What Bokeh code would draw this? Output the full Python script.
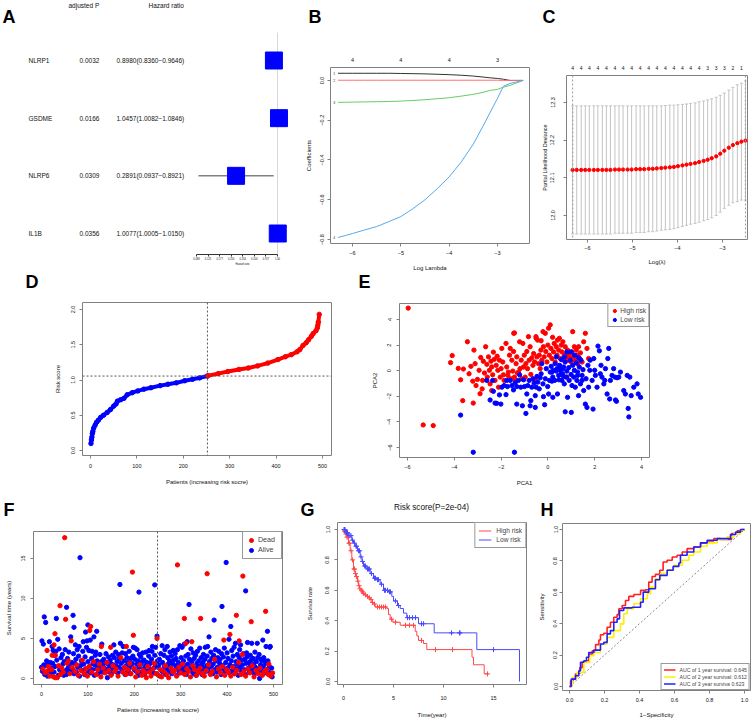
import math
from bokeh.plotting import figure
from bokeh.layouts import row, column
from bokeh.models import Range1d, FixedTicker, LinearAxis, LogAxis, Span, Legend, LegendItem
from bokeh.embed import file_html
from bokeh.resources import INLINE
from bokeh.core.properties import value

# ---------------------------------------------------------------- data
# A: forest plot
A_genes = ["NLRP1", "GSDME", "NLRP6", "IL1B"]
A_padj = ["0.0032", "0.0166", "0.0309", "0.0356"]
A_hr = [0.8980, 1.0457, 0.2891, 1.0077]
A_lo = [0.8360, 1.0082, 0.0937, 1.0005]
A_hi = [0.9646, 1.0846, 0.8921, 1.0150]
A_row = [4, 3, 2, 1]
A_ticks = [0.0884, 0.125, 0.1768, 0.25, 0.3536, 0.5, 0.7071, 1.0]
A_tick_labels = ["0.088", "0.125", "0.177", "0.250", "0.354", "0.500", "0.707", "1.00"]
A_headers = ["adjusted P", "Hazard ratio"]

# B: LASSO coefficient paths
B_loglambda = [-6.30, -6.15, -6.00, -5.75, -5.50, -5.25, -5.00, -4.75, -4.50, -4.25, -4.00,
               -3.75, -3.50, -3.30, -3.15, -3.00, -2.88, -2.74, -2.47]
B_coef_1 = [0.036, 0.036, 0.036, 0.036, 0.036, 0.036, 0.035, 0.034, 0.033, 0.031, 0.029,
            0.026, 0.022, 0.017, 0.013, 0.010, 0.006, 0.000, 0.000]
B_coef_2 = [0.001, 0.001, 0.001, 0.001, 0.001, 0.001, 0.001, 0.001, 0.001, 0.001, 0.001,
            0.001, 0.001, 0.001, 0.001, 0.001, 0.000, 0.000, 0.000]
B_coef_3 = [-0.110, -0.110, -0.109, -0.108, -0.107, -0.106, -0.104, -0.101, -0.097, -0.092, -0.087,
            -0.079, -0.070, -0.060, -0.050, -0.045, -0.034, -0.025, 0.000]
B_coef_4 = [-0.790, -0.780, -0.770, -0.752, -0.735, -0.710, -0.685, -0.645, -0.600, -0.545, -0.485,
            -0.410, -0.320, -0.230, -0.160, -0.090, -0.030, -0.015, 0.000]
B_top_ticks = [-6, -5, -4, -3]
B_top_labels = ["4", "4", "4", "3"]

# C: cross-validation curve
C_loglambda = [-6.33, -6.24, -6.14, -6.05, -5.96, -5.86, -5.77, -5.67, -5.58, -5.49,
               -5.39, -5.30, -5.21, -5.11, -5.02, -4.92, -4.83, -4.74, -4.64, -4.55,
               -4.46, -4.36, -4.27, -4.17, -4.08, -3.99, -3.89, -3.80, -3.71, -3.61,
               -3.52, -3.42, -3.33, -3.24, -3.14, -3.05, -2.96, -2.86, -2.77, -2.67,
               -2.58, -2.49]
C_mean = [12.121, 12.121, 12.121, 12.121, 12.121, 12.121, 12.121, 12.121, 12.121, 12.121,
          12.122, 12.122, 12.122, 12.122, 12.122, 12.123, 12.123, 12.123, 12.124, 12.124,
          12.125, 12.126, 12.127, 12.128, 12.129, 12.131, 12.133, 12.135, 12.137, 12.139,
          12.142, 12.145, 12.148, 12.152, 12.157, 12.164, 12.172, 12.180, 12.187, 12.192,
          12.196, 12.199]
C_upper = [12.291, 12.291, 12.291, 12.291, 12.291, 12.291, 12.291, 12.291, 12.291, 12.291,
           12.291, 12.291, 12.291, 12.291, 12.291, 12.291, 12.291, 12.291, 12.291, 12.291,
           12.291, 12.291, 12.292, 12.293, 12.293, 12.294, 12.295, 12.296, 12.297, 12.299,
           12.302, 12.304, 12.307, 12.310, 12.314, 12.319, 12.325, 12.333, 12.340, 12.347,
           12.351, 12.357]
C_lower = [11.951, 11.951, 11.951, 11.951, 11.951, 11.951, 11.951, 11.951, 11.951, 11.951,
           11.953, 11.953, 11.953, 11.953, 11.953, 11.955, 11.955, 11.955, 11.957, 11.957,
           11.959, 11.961, 11.962, 11.963, 11.965, 11.968, 11.971, 11.974, 11.977, 11.979,
           11.982, 11.986, 11.989, 11.994, 12.000, 12.009, 12.019, 12.027, 12.034, 12.037,
           12.041, 12.041]
C_nzero = [4] * 32 + [3, 3, 3, 3, 3, 3, 2, 2, 1, 1]

# D: risk score curve (patients sorted by risk score)
D_patient = [1, 2, 3, 4, 5, 7, 10, 13, 17, 22, 28, 36, 43, 50, 55, 58, 65, 72, 79, 90, 102,
             115, 130, 150, 167, 185, 203, 220, 235, 252,
             253, 275, 296, 320, 340, 360, 382, 404, 420, 433, 445, 451, 458, 465, 470,
             476, 480, 486, 489, 490, 491, 493]
D_risk = [0.10, 0.15, 0.19, 0.24, 0.27, 0.32, 0.36, 0.40, 0.43, 0.47, 0.50, 0.54, 0.58, 0.63,
          0.66, 0.70, 0.72, 0.74, 0.79, 0.82, 0.845, 0.87, 0.89, 0.92, 0.94, 0.96, 0.99, 1.01,
          1.03, 1.056,
          1.06, 1.09, 1.12, 1.15, 1.17, 1.20, 1.24, 1.29, 1.33, 1.36, 1.40, 1.43, 1.49, 1.53,
          1.57, 1.62, 1.66, 1.70, 1.74, 1.78, 1.82, 1.93]
D_cut_patient = 252
D_cut_risk = 1.056

# E: PCA
E_high = [(-5.97, 4.89), (-5.33, -4.24), (-4.90, -4.29), (-4.16, 0.63), (-4.09, 1.18), (-3.83, 0.18),
          (-3.73, -0.71), (-3.64, -2.34), (-3.61, 0.13), (-3.44, 2.26), (-3.37, -0.24), (-3.29, 0.34),
          (-3.21, -0.82), (-3.16, 1.61), (-3.19, -2.53), (-3.11, 0.55), (-3.07, -1.16), (-3.01, -0.68),
          (-2.94, 0.03), (-2.90, -1.80), (-2.87, 1.03), (-2.81, -1.42), (-2.79, -0.76), (-2.76, 0.74),
          (-2.71, -0.18), (-2.66, 1.87), (-2.61, 0.50), (-2.59, -0.50), (-2.54, 1.08), (-2.50, 0.03),
          (-2.47, -1.03), (-2.43, 0.74), (-2.40, 0.29), (-2.40, -1.55), (-2.36, -0.32), (-2.33, 1.45),
          (-2.29, 0.89), (-2.26, -0.76), (-2.21, 0.42), (-2.17, 1.13), (-2.14, 0.03), (-2.11, -1.29),
          (-2.07, 0.82), (-2.04, -0.50), (-2.00, 0.16), (-1.97, 1.74), (-1.93, 0.68), (-1.90, -0.32),
          (-1.87, -0.76), (-1.79, 2.13), (-1.76, 0.29), (-1.71, -0.37), (-1.69, -0.11), (-1.64, 1.21),
          (-1.61, 1.74), (-1.59, -0.63), (-1.54, 0.82), (-1.50, -0.03), (-1.47, 1.50), (-1.46, 2.92),
          (-1.43, 2.95), (-1.43, -0.50), (-1.39, -0.76), (-1.36, 0.55), (-1.33, 1.08), (-1.30, -0.18),
          (-1.26, -0.11), (-1.21, 2.26), (-1.19, 0.16), (-1.14, 0.82), (-1.11, -0.63), (-1.07, 2.13),
          (-1.04, 0.29), (-1.01, 1.21), (-0.97, -0.50), (-0.94, 0.55), (-0.90, 1.50), (-0.87, 0.16),
          (-0.83, 2.66), (-0.80, 0.82), (-0.76, 1.87), (-0.73, -0.29), (-0.69, 1.00), (-0.64, 0.42),
          (-0.61, 1.34), (-0.57, 0.68), (-0.54, -0.71), (-0.51, 2.66), (-0.50, 2.53), (-0.47, 1.08),
          (-0.44, 2.39), (-0.40, 0.55), (-0.37, 1.21), (-0.33, 0.16), (-0.30, 1.61), (-0.29, 2.34),
          (-0.26, 0.82), (-0.21, 3.05), (-0.19, 1.87), (-0.16, 1.08), (-0.11, 2.92), (-0.09, 1.50),
          (-0.04, 0.68), (0.00, 2.00), (0.03, 3.32), (0.06, 1.21), (0.10, 3.58), (0.13, 1.74),
          (0.17, 0.95), (0.20, 2.61), (0.24, 1.47), (0.27, 2.13), (0.31, 0.68), (0.36, 1.87),
          (0.39, 1.21), (0.41, 2.39), (0.46, 1.61), (0.49, 2.53), (0.53, 0.95), (0.57, 2.00),
          (0.60, 1.47), (0.64, 2.26), (0.67, 0.82), (0.70, 1.21), (0.74, 1.87), (0.79, 1.08),
          (0.81, -0.50), (0.84, 1.61), (0.89, 0.82), (0.91, 1.34), (0.96, 1.00), (0.99, 0.68),
          (1.03, 1.47), (1.06, 3.05), (1.10, 1.13), (1.13, 1.87), (1.17, 0.82), (1.21, 1.61),
          (1.24, 1.21), (1.27, 0.55), (1.31, 1.87), (1.36, 0.95), (1.39, 1.39), (1.46, 0.68),
          (1.53, 2.26), (1.60, 2.92), (1.67, 1.74), (1.74, 0.95)]
E_low = [(-3.73, -3.47), (-3.19, -6.37), (-1.43, -6.37), (-2.47, -2.29), (-2.36, -0.76), (-2.33, -1.61),
         (-2.26, -2.53), (-2.19, -2.55), (-2.07, -1.89), (-2.01, -2.61), (-1.97, -1.29), (-1.87, -1.16),
         (-1.79, -1.87), (-1.76, -0.76), (-1.73, -1.24), (-1.61, -0.76), (-1.54, -1.16), (-1.47, -1.50),
         (-1.40, -0.95), (-1.33, -1.24), (-1.33, -2.61), (-1.26, -0.76), (-1.21, -0.32), (-1.16, -1.29),
         (-1.09, -2.74), (-1.04, -0.71), (-1.00, -1.24), (-0.94, -3.34), (-0.90, -1.82), (-0.86, -1.16),
         (-0.80, -0.76), (-0.76, -2.74), (-0.73, -2.34), (-0.69, -1.29), (-0.64, -0.63), (-0.59, -0.97),
         (-0.54, -1.95), (-0.54, -2.87), (-0.50, -1.29), (-0.47, -0.45), (-0.43, -0.89), (-0.37, -1.42),
         (-0.33, -0.55), (-0.29, -0.24), (-0.26, 0.55), (-0.21, -1.03), (-0.19, -2.03), (-0.14, -2.66),
         (-0.11, -0.63), (-0.07, 0.16), (-0.01, -1.24), (0.03, -1.82), (0.07, -0.76), (0.10, -0.11),
         (0.14, 0.34), (0.17, -0.82), (0.17, -0.11), (0.21, -0.50), (0.21, -2.08), (0.24, 0.03),
         (0.29, -0.76), (0.31, 0.55), (0.36, 1.08), (0.36, -0.03), (0.39, 0.16), (0.41, -1.82),
         (0.46, -0.37), (0.47, -0.71), (0.49, 0.16), (0.50, 0.42), (0.53, 0.03), (0.57, 0.87),
         (0.57, -0.24), (0.60, -0.76), (0.63, -0.24), (0.64, 0.16), (0.67, 0.29), (0.67, -0.45),
         (0.70, -1.03), (0.71, 1.08), (0.74, 0.68), (0.74, -3.21), (0.79, -0.50), (0.81, -0.03),
         (0.81, 1.47), (0.84, -2.08), (0.89, 0.24), (0.91, -0.76), (0.96, 0.82), (0.99, -0.29),
         (0.99, 1.47), (1.00, -3.26), (1.03, -1.16), (1.06, 0.42), (1.10, -0.50), (1.13, 0.03),
         (1.14, 1.21), (1.17, -1.29), (1.21, 0.61), (1.24, -0.76), (1.27, -0.11), (1.27, -0.37),
         (1.31, -1.95), (1.31, 1.03), (1.34, 0.29), (1.39, -1.03), (1.41, 0.82), (1.46, -0.37),
         (1.46, -0.76), (1.50, 0.08), (1.53, -1.55), (1.60, -2.61), (1.63, -0.63), (1.67, -2.87),
         (1.71, 0.42), (1.74, -1.29), (1.79, 0.03), (1.81, 0.82), (1.89, -0.76), (1.93, -3.00),
         (1.96, 0.95), (2.00, 0.03), (2.03, -0.37), (2.10, -1.29), (2.14, 1.92), (2.20, 1.55),
         (2.24, -0.24), (2.27, 0.42), (2.31, -0.50), (2.39, -1.03), (2.43, -0.76), (2.46, 0.16),
         (2.53, -1.82), (2.56, 0.95), (2.60, 1.74), (2.64, -2.21), (2.67, -0.76), (2.74, -0.37),
         (2.81, 0.16), (2.86, -0.50), (2.89, -2.29), (2.93, -2.39), (2.96, -0.55), (3.03, -0.50),
         (3.10, -0.11), (3.24, -1.55), (3.31, -1.82), (3.39, -0.37), (3.43, -2.95), (3.46, -3.61),
         (3.50, -0.50), (3.56, -1.95), (3.67, -1.29), (3.81, -1.03), (3.86, -1.82), (3.96, -2.08),
         (-2.61, -0.76)]

# F: survival status (patient rank, years)
F_dead = [(50, 17.6), (40, 9.1), (52, 7.4), (29, 5.6), (64, 4.7), (104, 6.0), (106, 6.5), (129, 4.0),
          (149, 3.9), (183, 4.0), (196, 13.3), (198, 5.4), (249, 5.0), (293, 14.2), (308, 7.5),
          (311, 4.4), (324, 4.6), (343, 7.5), (357, 13.1), (393, 4.8), (406, 5.5), (420, 7.9),
          (426, 4.7), (434, 12.8), (433, 3.0), (452, 7.1), (483, 8.4), (490, 1.8), (12, 3.5),
          (27, 4.2), (23, 2.9), (30, 2.9),
          (3, 1.2), (8, 0.7), (12, 0.9), (15, 1.5), (18, 0.3), (22, 1.1), (26, 0.2), (30, 0.1),
          (34, 0.1), (37, 1.6), (41, 0.5), (44, 1.3), (47, 0.8), (55, 1.9), (58, 2.2), (61, 0.6),
          (66, 1.4), (72, 0.9), (76, 1.7), (79, 0.4), (85, 1.0), (88, 2.3), (92, 0.6), (96, 1.2),
          (99, 0.3), (103, 1.5), (108, 0.8), (112, 2.1), (118, 0.5), (121, 1.1), (125, 1.8),
          (128, 0.2), (133, 1.3), (137, 0.7), (141, 2.0), (145, 1.0), (150, 0.4), (154, 1.6),
          (158, 0.9), (161, 1.2), (165, 0.3), (171, 2.6), (175, 0.8), (179, 1.4), (182, 0.5),
          (186, 1.1), (190, 1.9), (193, 0.6), (199, 1.3), (203, 0.2), (207, 0.9), (212, 1.7),
          (216, 0.4), (219, 1.0), (223, 0.7), (226, 0.1), (229, 1.5), (233, 0.8), (236, 0.3),
          (240, 1.2), (243, 1.9), (247, 0.6), (252, 0.4), (256, 1.1), (259, 0.2), (263, 0.9),
          (267, 1.6), (270, 0.5), (274, 0.1), (279, 1.3), (283, 0.8), (287, 1.0), (291, 0.3),
          (296, 1.4), (300, 0.7), (304, 1.8), (309, 0.5), (313, 1.2), (317, 0.9), (321, 0.2),
          (326, 1.6), (330, 1.1), (334, 0.4), (338, 0.8), (342, 1.3), (347, 0.6), (351, 0.3),
          (355, 1.0), (360, 1.7), (364, 0.5), (368, 0.9), (373, 2.4), (377, 0.2), (381, 1.2),
          (386, 0.7), (390, 1.5), (395, 0.4), (399, 1.1), (403, 0.8), (408, 0.3), (412, 1.4),
          (417, 0.6), (421, 1.0), (425, 2.0), (430, 0.5), (436, 0.9), (440, 0.3), (445, 1.2),
          (449, 0.7), (454, 1.6), (458, 0.2), (462, 1.0), (467, 0.6), (471, 1.3), (476, 0.4),
          (480, 0.8), (485, 1.1), (489, 0.5), (494, 0.3), (498, 0.7)]
F_alive = [(1, 4.7), (4, 4.3), (6, 7.7), (9, 7.0), (32, 7.5), (54, 8.9), (68, 7.9), (70, 6.4),
           (83, 15.1), (100, 6.7), (95, 5.8), (119, 5.9), (169, 11.75), (210, 10.8), (244, 11.7),
           (318, 9.25), (372, 7.3), (389, 9.0), (398, 14.5), (408, 6.5), (440, 10.95),
           (0, 1.4), (2, 0.9), (5, 1.7), (7, 0.5), (9, 1.6), (11, 2.2), (13, 0.3), (14, 1.8), (16, 1.0),
           (17, 4.6), (19, 2.0), (20, 0.7), (21, 1.3), (23, 4.0), (24, 1.9), (25, 3.5), (27, 0.8),
           (28, 2.9), (29, 1.5), (31, 3.4), (33, 2.3), (35, 4.9), (36, 0.4), (38, 3.7), (39, 1.1),
           (42, 2.6), (43, 0.6), (45, 3.0), (46, 1.8), (48, 0.4), (49, 2.1), (51, 3.6), (53, 1.0),
           (54, 0.5), (56, 2.5), (57, 1.3), (59, 3.3), (60, 1.7), (62, 0.9), (63, 5.2), (65, 2.0),
           (67, 1.1), (69, 3.1), (70, 0.6), (71, 1.9), (73, 4.2), (74, 2.4), (75, 0.8), (77, 3.6),
           (78, 1.4), (80, 2.8), (81, 4.0), (82, 0.3), (84, 1.6), (86, 2.2), (87, 1.0), (89, 3.4),
           (90, 4.6), (91, 1.8), (93, 0.5), (94, 2.7), (95, 1.2), (97, 3.9), (98, 4.7), (100, 2.1),
           (101, 0.9), (102, 3.5), (104, 1.5), (105, 4.8), (106, 0.7), (108, 2.5), (109, 3.4),
           (110, 1.1), (111, 1.9), (113, 5.2), (114, 0.4), (115, 1.7), (116, 2.9), (117, 3.3),
           (119, 1.2), (120, 2.2), (122, 0.6), (124, 1.5), (126, 3.0), (127, 1.0), (129, 2.1),
           (130, 4.3), (131, 0.8), (132, 1.6), (134, 2.4), (135, 1.3), (136, 0.9), (138, 2.0),
           (139, 3.1), (140, 1.1), (142, 0.1), (143, 1.8), (144, 2.7), (146, 0.8), (147, 1.4),
           (148, 2.3), (149, 1.9), (151, 0.6), (152, 1.2), (153, 2.9), (155, 1.7), (156, 4.2),
           (157, 2.6), (159, 1.0), (160, 3.3), (162, 1.5), (163, 2.1), (164, 0.7), (166, 3.0),
           (167, 1.4), (168, 2.5), (170, 4.4), (172, 1.9), (173, 0.9), (174, 3.2), (176, 4.0),
           (177, 1.3), (178, 2.2), (180, 0.5), (181, 3.1), (183, 1.6), (184, 2.6), (185, 0.8),
           (187, 2.0), (188, 1.2), (189, 3.4), (191, 0.6), (192, 2.5), (194, 1.5), (195, 1.9),
           (197, 2.8), (198, 3.9), (200, 1.1), (201, 2.4), (202, 3.8), (204, 0.9), (205, 1.8),
           (206, 3.6), (208, 2.2), (209, 0.4), (210, 1.4), (211, 3.0), (213, 1.7), (214, 2.7),
           (215, 0.8), (217, 2.1), (218, 3.2), (220, 1.2), (221, 2.3), (222, 0.5), (224, 1.6),
           (225, 3.3), (227, 2.0), (228, 0.9), (230, 1.5), (231, 2.8), (232, 3.5), (234, 1.1),
           (235, 1.9), (237, 2.4), (238, 3.4), (239, 4.0), (241, 0.7), (242, 1.3), (244, 2.9),
           (245, 1.8), (246, 3.9), (248, 0.6), (249, 5.3), (250, 2.2), (251, 1.4),
           (253, 1.7), (254, 2.4), (255, 0.3), (257, 3.1), (258, 1.0), (260, 4.1), (261, 2.0),
           (262, 0.8), (264, 2.9), (265, 1.5), (266, 3.6), (268, 0.5), (269, 1.2), (271, 4.0),
           (272, 2.6), (273, 1.8), (275, 0.9), (276, 2.2), (277, 3.3), (278, 1.4), (280, 2.8),
           (281, 0.6), (282, 1.9), (284, 3.5), (285, 2.3), (286, 1.0), (288, 3.1), (289, 1.6),
           (290, 2.5), (292, 0.4), (293, 3.6), (294, 1.3), (295, 2.0), (297, 0.8), (298, 4.1),
           (299, 1.7), (301, 2.6), (302, 1.1), (303, 3.9), (305, 0.7), (306, 2.2), (307, 1.5),
           (308, 4.3), (310, 1.0), (311, 2.8), (312, 0.5), (314, 4.6), (315, 1.8), (316, 3.0),
           (319, 2.4), (320, 1.3), (322, 3.7), (323, 0.9), (324, 2.1), (325, 1.6), (327, 3.2),
           (328, 0.6), (329, 2.5), (331, 1.2), (332, 2.9), (333, 0.4), (335, 1.9), (336, 3.4),
           (337, 1.5), (339, 2.2), (340, 0.8), (341, 3.8), (343, 1.1), (344, 2.6), (345, 1.7),
           (346, 0.5), (348, 2.0), (349, 3.0), (350, 1.3), (352, 2.4), (353, 3.9), (354, 0.9),
           (356, 1.6), (357, 2.8), (358, 4.0), (359, 1.2), (361, 5.2), (362, 2.1), (363, 0.7),
           (365, 3.3), (366, 1.5), (367, 2.5), (369, 0.6), (370, 1.8), (371, 2.9), (374, 1.1),
           (375, 3.6), (376, 2.2), (378, 0.8), (379, 1.4), (380, 2.6), (382, 3.4), (383, 1.0),
           (384, 1.9), (385, 2.4), (387, 0.5), (388, 3.1), (391, 1.6), (392, 2.7), (393, 1.2),
           (394, 3.8), (396, 0.9), (397, 2.0), (400, 3.2), (401, 1.3), (402, 2.5), (404, 4.9),
           (405, 0.7), (406, 1.7), (409, 2.2), (410, 3.5), (411, 1.0), (413, 2.8), (414, 1.5),
           (415, 3.9), (416, 0.6), (418, 4.4), (419, 2.1), (420, 1.2), (422, 3.0), (423, 1.8),
           (424, 0.4), (426, 2.6), (427, 3.6), (428, 1.4), (429, 4.2), (431, 0.9), (432, 2.3),
           (433, 1.7), (435, 3.1), (437, 1.1), (438, 2.4), (439, 0.5), (441, 1.9), (442, 3.2),
           (443, 2.7), (444, 4.5), (446, 1.3), (447, 2.0), (448, 0.8), (450, 2.9), (451, 1.6),
           (452, 2.3), (453, 4.4), (455, 1.0), (456, 2.5), (457, 1.8), (459, 0.6), (460, 3.3),
           (461, 1.4), (463, 2.1), (464, 0.9), (465, 4.4), (466, 2.6), (468, 1.2), (469, 3.0),
           (470, 0.0), (472, 1.7), (473, 2.4), (474, 1.0), (475, 2.2), (477, 4.8), (478, 1.5),
           (479, 2.6), (481, 0.7), (482, 2.2), (483, 1.9), (484, 4.0), (486, 1.1), (487, 5.9),
           (488, 2.2), (490, 0.8), (491, 1.5), (492, 3.9), (493, 4.0), (495, 0.4), (496, 1.3),
           (497, 0.2)]
F_cut_patient = 250

# G: Kaplan-Meier
G_high_time = [0, 0.1, 0.2, 0.33, 0.5, 0.67, 0.83, 1.0, 1.15, 1.27, 1.4, 1.5, 1.6, 1.73, 1.85, 1.93,
               2.1, 2.33, 2.5, 2.67, 2.85, 3.0, 3.17, 4.33, 4.5, 4.67, 4.93, 5.67, 7.17, 7.33, 7.5,
               8.0, 8.33, 12.85, 13.0, 14.07, 14.5]
G_high_surv = [1.0, 0.99, 0.97, 0.95, 0.91, 0.86, 0.80, 0.74, 0.71, 0.69, 0.66, 0.63, 0.61, 0.60,
               0.59, 0.58, 0.57, 0.56, 0.55, 0.54, 0.52, 0.51, 0.49, 0.48, 0.44, 0.41, 0.39, 0.37,
               0.33, 0.30, 0.27, 0.25, 0.21, 0.16, 0.11, 0.05, 0.05]
G_low_time = [0, 0.2, 0.5, 0.83, 1.0, 1.17, 1.4, 1.67, 1.85, 2.0, 2.33, 2.67, 3.0, 3.33, 3.67, 4.0,
              4.5, 4.83, 5.0, 5.4, 5.67, 6.0, 6.33, 7.5, 9.07, 13.33, 17.6]
G_low_surv = [1.0, 0.98, 0.96, 0.93, 0.91, 0.89, 0.86, 0.82, 0.79, 0.76, 0.74, 0.71, 0.68, 0.67,
              0.64, 0.60, 0.59, 0.56, 0.53, 0.50, 0.48, 0.45, 0.42, 0.38, 0.32, 0.21, 0.0]
G_high_censor = [0.1, 0.15, 0.25, 0.35, 0.45, 0.55, 0.6, 0.75, 0.9, 1.05, 1.1, 1.2, 1.3, 1.45, 1.55,
                 1.65, 1.8, 1.9, 2.0, 2.2, 2.4, 2.6, 2.75, 2.9, 3.1, 3.4, 3.6, 3.8, 4.0, 4.2, 4.8,
                 5.2, 6.2, 6.6, 7.0, 7.8, 9.2, 10.9, 14.4]
G_low_censor = [0.05, 0.1, 0.15, 0.25, 0.3, 0.4, 0.55, 0.65, 0.75, 0.9, 1.1, 1.25, 1.3, 1.5, 1.6,
                1.75, 1.9, 2.1, 2.2, 2.4, 2.5, 2.6, 2.8, 3.1, 3.2, 3.4, 3.5, 3.8, 4.1, 4.2, 4.4,
                4.6, 4.7, 5.2, 5.5, 6.4, 6.6, 6.9, 7.2, 7.8, 8.0, 10.8, 11.6, 11.65, 15.0]
G_title = "Risk score(P=2e-04)"

# H: time-dependent ROC
H_fpr_1 = [0, 0.006, 0.02, 0.034, 0.053, 0.059, 0.072, 0.091, 0.11, 0.13, 0.149, 0.168, 0.177, 0.196,
           0.215, 0.234, 0.253, 0.272, 0.282, 0.301, 0.32, 0.339, 0.368, 0.406, 0.434, 0.453, 0.472,
           0.491, 0.516, 0.535, 0.558, 0.587, 0.615, 0.644, 0.672, 0.71, 0.749, 0.787, 0.825, 0.863,
           0.91, 0.926, 0.958, 0.987, 1.0]
H_tpr_1 = [0, 0.036, 0.047, 0.079, 0.083, 0.12, 0.154, 0.164, 0.207, 0.228, 0.267, 0.296, 0.33, 0.339,
           0.377, 0.409, 0.441, 0.458, 0.495, 0.516, 0.548, 0.574, 0.586, 0.612, 0.616, 0.665, 0.701,
           0.714, 0.74, 0.793, 0.804, 0.825, 0.836, 0.857, 0.878, 0.889, 0.915, 0.927, 0.942, 0.936,
           0.936, 0.974, 0.991, 1.0, 1.0]
H_fpr_2 = [0, 0.015, 0.044, 0.082, 0.116, 0.139, 0.177, 0.215, 0.253, 0.291, 0.31, 0.33, 0.368, 0.406,
           0.444, 0.463, 0.491, 0.52, 0.558, 0.596, 0.644, 0.682, 0.71, 0.749, 0.787, 0.844, 0.901,
           0.939, 0.977, 1.0]
H_tpr_2 = [0, 0.058, 0.09, 0.154, 0.196, 0.217, 0.271, 0.313, 0.356, 0.399, 0.463, 0.495, 0.527,
           0.559, 0.591, 0.633, 0.687, 0.719, 0.744, 0.772, 0.804, 0.836, 0.857, 0.893, 0.915, 0.936,
           0.953, 0.974, 0.996, 1.0]
H_fpr_3 = [0, 0.01, 0.034, 0.053, 0.063, 0.082, 0.097, 0.11, 0.139, 0.177, 0.196, 0.215, 0.234, 0.253,
           0.272, 0.286, 0.31, 0.358, 0.406, 0.421, 0.453, 0.491, 0.516, 0.558, 0.592, 0.625, 0.634,
           0.672, 0.71, 0.749, 0.787, 0.844, 0.882, 0.92, 0.949, 0.977, 1.0]
H_tpr_3 = [0, 0.047, 0.068, 0.1, 0.154, 0.164, 0.186, 0.217, 0.232, 0.271, 0.281, 0.335, 0.356, 0.409,
           0.431, 0.484, 0.501, 0.505, 0.537, 0.601, 0.623, 0.68, 0.708, 0.74, 0.765, 0.787, 0.836,
           0.857, 0.889, 0.915, 0.932, 0.942, 0.942, 0.968, 0.983, 1.0, 1.0]
H_labels = ["AUC of 1 year survival: 0.645", "AUC of 2 year survival: 0.612", "AUC of 3 year surviva 0.623"]

PANEL_LETTERS = ["A", "B", "C", "D", "E", "F", "G", "H"]

# ---------------------------------------------------------------- layout helpers
FONT = "Liberation Sans"
GRAY = "#808080"
RED = "#FF0000"
BLUE = "#0000FF"
PAGE_W = 752


def fs(v):
    return f"{v:.2f}px"


def cal(p0, v0, p1, v1, q):
    return v0 + (q - p0) * (v1 - v0) / (p1 - p0)


# (figure box, frame box) in page pixels
GEOM = {
    "At": ((0, 30, 192, 273), (0, 30, 192, 273)),
    "Af": ((192, 30, 292, 273), (192, 32, 292, 254)),
    "B": ((292, 30, 535, 273), (330, 67, 529, 244)),
    "C": ((535, 30, 752, 273), (566, 75, 747, 239)),
    "D": ((0, 296, 355, 493), (82, 302, 331, 455)),
    "E": ((355, 296, 752, 493), (399, 303, 649, 457)),
    "F": ((0, 520, 287, 720), (33, 531, 282, 684)),
    "G": ((287, 520, 535, 720), (337, 522, 526, 684)),
    "H": ((535, 520, 752, 720), (562, 523, 750, 690)),
}
STRIPS = [(0, 30), (273, 296), (493, 520)]


def no_align(p):
    try:
        p.frame_align = False
    except Exception:
        pass


def make(name, xcal, ycal, x_type="linear", outline=True):
    (fx0, fy0, fx1, fy1), (lx0, ly0, lx1, ly1) = GEOM[name]
    p = figure(width=fx1 - fx0, height=fy1 - fy0,
               x_range=Range1d(xcal(lx0), xcal(lx1)), y_range=Range1d(ycal(ly1), ycal(ly0)),
               x_axis_type=x_type, x_axis_location=None, y_axis_location=None,
               output_backend="svg", toolbar_location=None, tools="")
    p.min_border_left = lx0 - fx0
    p.min_border_right = fx1 - lx1
    p.min_border_top = ly0 - fy0
    p.min_border_bottom = fy1 - ly1
    p.grid.visible = False
    p.outline_line_color = GRAY if outline else None
    p.background_fill_color = "white"
    p.border_fill_color = "white"
    no_align(p)
    return p


def make_strip(y0, y1):
    p = figure(width=PAGE_W, height=y1 - y0, x_range=Range1d(0, PAGE_W), y_range=Range1d(y1, y0),
               x_axis_location=None, y_axis_location=None,
               output_backend="svg", toolbar_location=None, tools="")
    p.min_border = 0
    p.min_border_left = p.min_border_right = p.min_border_top = p.min_border_bottom = 0
    p.grid.visible = False
    p.outline_line_color = None
    p.border_fill_color = "white"
    no_align(p)
    return p


def axis(p, side, ticks, labels, d1, d2=None, label=None, font=5.5, lfont=6.0, tick_out=3,
         log=False, ticks_visible=True, bounds=None, line_color=None):
    ax = (LogAxis if log else LinearAxis)(ticker=FixedTicker(ticks=list(ticks)))
    ax.major_label_overrides = {t: l for t, l in zip(ticks, labels)}
    ax.axis_line_color = line_color
    if bounds is not None:
        ax.bounds = bounds
    ax.minor_tick_line_color = None
    ax.major_tick_in = 0
    ax.major_tick_out = tick_out if ticks_visible else 0
    ax.major_tick_line_color = GRAY if ticks_visible else None
    if not ticks_visible:
        tick_out = 0
    ax.major_label_text_font = FONT
    ax.major_label_text_font_size = fs(font)
    ax.major_label_text_color = "#111111"
    h = font * 1.15
    ax.major_label_standoff = max(0, int(round(d1 - 1 - tick_out - h / 2)))
    if side in ("left", "right"):
        ax.major_label_orientation = "vertical"
    if label is not None:
        ax.axis_label = label
        ax.axis_label_text_font = FONT
        ax.axis_label_text_font_size = fs(lfont)
        ax.axis_label_text_font_style = "normal"
        ax.axis_label_text_color = "#111111"
        ax.axis_label_standoff = max(0, int(round(d2 - d1 - 0.5 - h / 2 - lfont * 1.15 / 2)))
    p.add_layout(ax, side)
    return ax


def legend(p, items, loc, font, glyph_w, item_h, pad, standoff):
    lg = Legend(items=[LegendItem(label=l, renderers=[r]) for l, r in items], location=loc)
    lg.margin = 0
    lg.padding = pad
    lg.spacing = 0
    lg.label_text_font = FONT
    lg.label_text_font_size = fs(font)
    lg.glyph_width = glyph_w
    lg.glyph_height = item_h
    lg.label_height = item_h
    lg.label_standoff = standoff
    lg.border_line_color = "#333333"
    lg.border_line_width = 1
    lg.background_fill_color = "white"
    lg.background_fill_alpha = 1.0
    p.add_layout(lg)


def minus(v, fmt):
    return (fmt % v).replace("-", "\u2212")


# ---------------------------------------------------------------- strips with panel letters / headers
strip1 = make_strip(*STRIPS[0])
strip2 = make_strip(*STRIPS[1])
strip3 = make_strip(*STRIPS[2])
# (strip, left x, vertical centre of the capital letter)
LETTER_POS = {"A": (strip1, 2, 16.5), "B": (strip1, 308, 16.5), "C": (strip1, 542, 16.5),
              "D": (strip2, 25, 281), "E": (strip2, 358, 281),
              "F": (strip3, 3, 509), "G": (strip3, 300, 509), "H": (strip3, 540, 509)}
for letter in PANEL_LETTERS:
    sp, lx, ly = LETTER_POS[letter]
    sp.text(x=[lx], y=[ly], text=[letter], text_font=value(FONT), text_font_size=fs(18),
            text_font_style="bold", text_baseline="middle", text_color="#000000")
strip1.text(x=[68, 148], y=[5, 5], text=A_headers, text_font=value(FONT), text_font_size=fs(6.5),
            text_baseline="middle", text_color="#111111")
strip3.text(x=[431], y=[507], text=[G_title], text_font=value(FONT), text_font_size=fs(8.2),
            text_align="center", text_baseline="middle", text_color="#111111")

# ---------------------------------------------------------------- panel A
row_cal = lambda q: cal(233, 1, 60, 4, q)
pA = make("At", lambda q: q, row_cal, outline=False)
COL_GENE, COL_P, COL_HR = 28, 79, 116
A_hr_text = ["%.4f(%.4f\u2212%.4f)" % (h, l, u) for h, l, u in zip(A_hr, A_lo, A_hi)]
for col, txt in [(COL_GENE, A_genes), (COL_P, A_padj), (COL_HR, A_hr_text)]:
    pA.text(x=[col] * len(txt), y=A_row, text=txt, text_font=value(FONT),
            text_font_size=fs(6.5), text_baseline="middle", text_color="#111111")

log_cal = lambda q: 2 ** cal(196, -3.5, 277, 0.0, q)
pAf = make("Af", log_cal, row_cal, x_type="log", outline=False)
# reference line at HR = 1, drawn beneath the boxes
pAf.line([1.0, 1.0], [row_cal(GEOM["Af"][1][3]), row_cal(GEOM["Af"][1][1])], line_color="#D8D8D8",
         line_width=1)
pAf.segment(x0=A_lo, y0=A_row, x1=A_hi, y1=A_row, line_color="#444444", line_width=1)
pAf.scatter(x=A_hr, y=A_row, marker="square", size=17, fill_color=BLUE, line_color=BLUE)
axis(pAf, "below", A_ticks, A_tick_labels, d1=5.5, d2=9, label="Hazard ratio", font=2.6, lfont=2.6,
     tick_out=2, log=True, bounds=(A_ticks[0], A_ticks[-1]), line_color="#333333")
pAf.xaxis.major_tick_line_color = "#333333"

# ---------------------------------------------------------------- panel B
pB = make("B", lambda q: cal(352, -6, 497, -3, q), lambda q: cal(80, 0.0, 240, -0.8, q))
B_colors = ["#333333", "#FF7070", "#66CC66", "#55AAEE"]
for i, coef in enumerate([B_coef_1, B_coef_2, B_coef_3, B_coef_4]):
    pB.line(B_loglambda, coef, line_color=B_colors[i], line_width=1)
    pB.text(x=[B_loglambda[0] - 0.08], y=[coef[0]], text=[str(i + 1)], text_font=value(FONT),
            text_font_size=fs(3.5), text_align="center", text_baseline="middle", text_color="#333333")
bx = [-6, -5, -4, -3]
axis(pB, "below", bx, [minus(v, "%d") for v in bx], d1=11, d2=25, label="Log Lambda")
by = [-0.8, -0.6, -0.4, -0.2, 0.0]
axis(pB, "left", by, [minus(v, "%.1f") for v in by], d1=10, d2=23, label="Coefficients")
axis(pB, "above", B_top_ticks, B_top_labels, d1=10, ticks_visible=False)

# ---------------------------------------------------------------- panel C
pC = make("C", lambda q: cal(587, -6, 722, -3, q), lambda q: cal(102, 12.3, 215, 12.0, q))
for loc in (C_loglambda[0], C_loglambda[-1]):
    pC.add_layout(Span(location=loc, dimension="height", line_color="#9A9A9A",
                       line_dash="2 2", line_width=1))
pC.segment(x0=C_loglambda, y0=C_lower, x1=C_loglambda, y1=C_upper, line_color="#C4C4C4", line_width=1)
pC.scatter(x=C_loglambda, y=C_upper, marker="dash", size=3, line_color="#C4C4C4")
pC.scatter(x=C_loglambda, y=C_lower, marker="dash", size=3, line_color="#C4C4C4")
pC.scatter(x=C_loglambda, y=C_mean, marker="circle", size=3.3, fill_color=RED, line_color=RED)
cx = [-6, -5, -4, -3]
axis(pC, "below", cx, [minus(v, "%d") for v in cx], d1=10, d2=23, label="Log(\u03bb)")
cy = [12.0, 12.1, 12.2, 12.3]
axis(pC, "left", cy, ["%.1f" % v for v in cy], d1=16.5, d2=23, label="Partial Likelihood Deviance",
     lfont=5.5)
axis(pC, "above", C_loglambda[::2], [str(n) for n in C_nzero[::2]], d1=9.5, ticks_visible=False, font=5.0)

# ---------------------------------------------------------------- panel D
pD = make("D", lambda q: cal(90, 0, 322, 500, q), lambda q: cal(450, 0.0, 309, 2.0, q))
pD.add_layout(Span(location=D_cut_patient, dimension="height", line_color="#555555",
                   line_dash="2 2", line_width=1))
pD.add_layout(Span(location=D_cut_risk, dimension="width", line_color="#555555",
                   line_dash="2 2", line_width=1))
lowx = [x for x in D_patient if x <= D_cut_patient]
lowy = [y for x, y in zip(D_patient, D_risk) if x <= D_cut_patient]
highx = [x for x in D_patient if x > D_cut_patient]
highy = [y for x, y in zip(D_patient, D_risk) if x > D_cut_patient]
pD.line(lowx, lowy, line_color=BLUE, line_width=4)
pD.scatter(lowx, lowy, size=4.5, fill_color=BLUE, line_color=BLUE)
pD.line(highx, highy, line_color=RED, line_width=4)
pD.scatter(highx, highy, size=4.5, fill_color=RED, line_color=RED)
dx = [0, 100, 200, 300, 400, 500]
axis(pD, "below", dx, ["%d" % v for v in dx], d1=12, d2=27, label="Patients (increasing risk socre)")
dy = [0.0, 0.5, 1.0, 1.5, 2.0]
axis(pD, "left", dy, ["%.1f" % v for v in dy], d1=12, d2=26, label="Risk score")

# ---------------------------------------------------------------- panel E
pE = make("E", lambda q: cal(407, -6, 641, 4, q), lambda q: cal(319, 4, 447, -6, q))
rEh = pE.scatter([a for a, b in E_high], [b for a, b in E_high], size=4.3, fill_color=RED, line_color=RED)
rEl = pE.scatter([a for a, b in E_low], [b for a, b in E_low], size=4.3, fill_color=BLUE, line_color=BLUE)
ex = [-6, -4, -2, 0, 2, 4]
axis(pE, "below", ex, [minus(v, "%d") for v in ex], d1=11, d2=26, label="PCA1")
axis(pE, "left", ex, [minus(v, "%d") for v in ex], d1=12, d2=26, label="PCA2")
legend(pE, [("High risk", rEh), ("Low risk", rEl)], "top_right", font=6.6, glyph_w=8, item_h=9,
       pad=2, standoff=2)

# ---------------------------------------------------------------- panel F
pF = make("F", lambda q: cal(41, 0, 273, 500, q), lambda q: cal(678, 0, 558, 15, q))
pF.add_layout(Span(location=F_cut_patient, dimension="height", line_color="#555555",
                   line_dash="2 2", line_width=1))
rFa = pF.scatter([a for a, b in F_alive], [b for a, b in F_alive], size=4.3, fill_color=BLUE,
                 line_color=BLUE)
rFd = pF.scatter([a for a, b in F_dead], [b for a, b in F_dead], size=4.3, fill_color=RED,
                 line_color=RED)
fx = [0, 100, 200, 300, 400, 500]
axis(pF, "below", fx, ["%d" % v for v in fx], d1=11, d2=26, label="Patients (increasing risk socre)")
fy = [0, 5, 10, 15]
axis(pF, "left", fy, ["%d" % v for v in fy], d1=13, d2=26, label="Survival time (years)")
legend(pF, [("Dead", rFd), ("Alive", rFa)], "top_right", font=7.1, glyph_w=10, item_h=10,
       pad=3, standoff=2)

# ---------------------------------------------------------------- panel G
pG = make("G", lambda q: cal(343, 0, 493, 15, q), lambda q: cal(681, 0.0, 529, 1.0, q))


def surv_at(times, surv, t):
    k = 0
    for i, ti in enumerate(times):
        if ti <= t:
            k = i
    return surv[k]


G_red_line = "#FF4A4A"
G_blue_line = "#4A4AFF"
rGh = pG.step(G_high_time, G_high_surv, mode="after", line_color=G_red_line, line_width=1)
rGl = pG.step(G_low_time, G_low_surv, mode="after", line_color=G_blue_line, line_width=1)
pG.scatter(G_high_censor, [surv_at(G_high_time, G_high_surv, t) for t in G_high_censor], marker="cross",
           size=5, line_color=G_red_line, line_width=1)
pG.scatter(G_low_censor, [surv_at(G_low_time, G_low_surv, t) for t in G_low_censor], marker="cross",
           size=5, line_color=G_blue_line, line_width=1)
gx = [0, 5, 10, 15]
axis(pG, "below", gx, ["%d" % v for v in gx], d1=15, d2=31, label="Time(year)")
gy = [0.0, 0.2, 0.4, 0.6, 0.8, 1.0]
axis(pG, "left", gy, ["%.1f" % v for v in gy], d1=12, d2=29, label="Survival rate")
legend(pG, [("High risk", rGh), ("Low risk", rGl)], "top_right", font=6.6, glyph_w=13, item_h=9,
       pad=3, standoff=5)

# ---------------------------------------------------------------- panel H
pH = make("H", lambda q: cal(569, 0.0, 744, 1.0, q), lambda q: cal(686, 0.0, 529, 1.0, q))
pH.line([0, 1], [0, 1], line_color="#8A8A8A", line_dash="2 2", line_width=1)
rH = []
for fpr, tpr, col in [(H_fpr_1, H_tpr_1, "#FF2020"), (H_fpr_2, H_tpr_2, "#FFF000"), (H_fpr_3, H_tpr_3, "#2020FF")]:
    rH.append(pH.step(fpr, tpr, mode="after", line_color=col, line_width=1.6))
hx = [0.0, 0.2, 0.4, 0.6, 0.8, 1.0]
axis(pH, "below", hx, ["%.1f" % v for v in hx], d1=11, d2=25, label="1\u2212Specificity")
axis(pH, "left", hx, ["%.1f" % v for v in hx], d1=9, d2=22, label="Sensitivity")
legend(pH, list(zip(H_labels, rH)), "bottom_right", font=5.2, glyph_w=12, item_h=7, pad=2, standoff=4)

# ---------------------------------------------------------------- page
W = lambda *ps: row(*[column(p) for p in ps])
page = column(strip1, W(pA, pAf, pB, pC), strip2, W(pD, pE), strip3, W(pF, pG, pH))
open("out.html", "w").write(file_html(page, INLINE))
